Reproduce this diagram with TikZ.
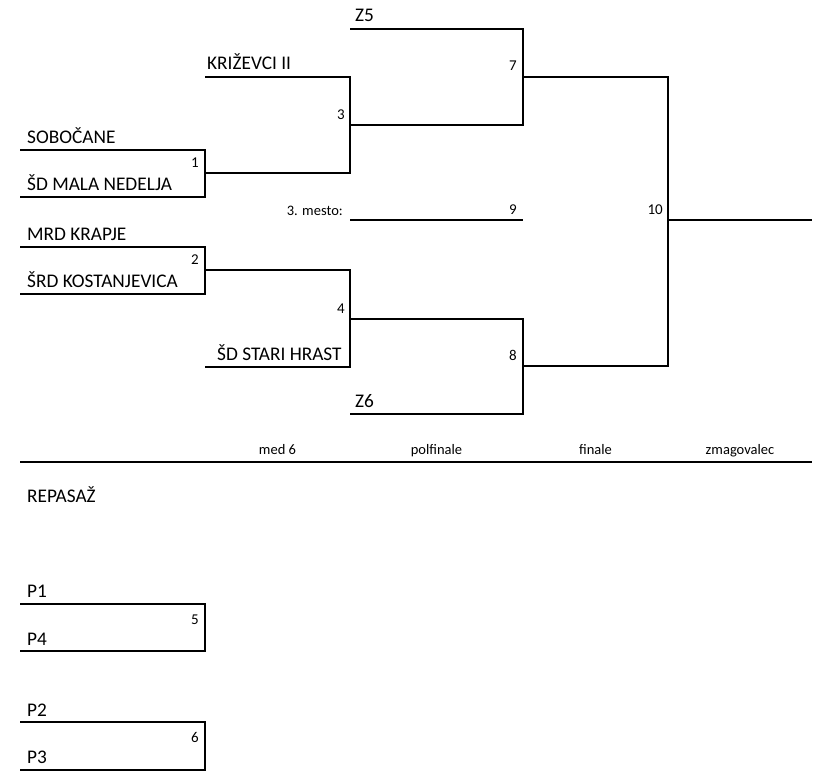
\documentclass[tikz,border=0pt]{standalone}
\usepackage{fontspec}
\setmainfont{Carlito}

\tikzset{
  team/.style={anchor=base west, inner sep=0pt, font=\fontsize{19.3}{21}\selectfont},
  num/.style={anchor=base east, inner sep=0pt, font=\fontsize{15}{17}\selectfont},
  small/.style={inner sep=0pt, font=\fontsize{14.5}{16}\selectfont},
  bracket/.style={line width=1.7pt}
}

\begin{document}
\begin{tikzpicture}[x=1pt, y=-1pt]
  \useasboundingbox (0,0) rectangle (828,784);
  % main draw
  \draw[bracket] (20,150) -| (205,197) -- (20,197);
  \draw[bracket] (20,247) -| (205,294) -- (20,294);
  \draw[bracket] (205,173) -- (350,173) |- (205,77);
  \draw[bracket] (205,270) -- (350,270) |- (205,367);
  \draw[bracket] (350,125) -- (523,125) |- (350,29);
  \draw[bracket] (350,319) -- (523,319) |- (350,414);
  \draw[bracket] (523,77) -- (668,77) -- (668,366) -- (523,366);
  \draw[bracket] (668,220) -- (812,220);
  \draw[bracket] (350,220) -- (523,220);
  \draw[bracket] (20,462) -- (812,462);
  % repechage
  \draw[bracket] (20,604) -| (205,651) -- (20,651);
  \draw[bracket] (20,722) -| (205,770) -- (20,770);

  \node[team] (sob) at (27,143) {SOBOČANE};
  \node[team] (mala) at (27,190) {ŠD MALA NEDELJA};
  \node[team] (mrd) at (27,240) {MRD KRAPJE};
  \node[team] (kost) at (27,287) {ŠRD KOSTANJEVICA};
  \node[team] (kriz) at (207,70) {KRIŽEVCI II};
  \node[team] (hrast) at (217,360) {ŠD STARI HRAST};
  \node[team] (z5) at (355,22) {Z5};
  \node[team] (z6) at (355,407) {Z6};
  \node[team] (rep) at (27,502) {REPASAŽ};
  \node[team] (p1) at (27,597) {P1};
  \node[team] (p4) at (27,645) {P4};
  \node[team] (p2) at (27,716) {P2};
  \node[team] (p3) at (27,763) {P3};

  \node[num] (m1) at (199,167) {1};
  \node[num] (m2) at (199,264) {2};
  \node[num] (m3) at (345,119) {3};
  \node[num] (m4) at (345,313) {4};
  \node[num] (m5) at (199,624) {5};
  \node[num] (m6) at (199,742) {6};
  \node[num] (m7) at (517,71) {7};
  \node[num] (m8) at (517,360) {8};
  \node[num] (m9) at (517,214) {9};
  \node[num] (m10) at (663,214) {10};
  \node[small, anchor=base east] (third) at (343,215) {3. mesto:};

  \node[small, anchor=base] (col1) at (277.5,454) {med 6};
  \node[small, anchor=base] (col2) at (436.5,454) {polfinale};
  \node[small, anchor=base] (col3) at (595.5,454) {finale};
  \node[small, anchor=base] (col4) at (740,454) {zmagovalec};
\end{tikzpicture}
\end{document}
